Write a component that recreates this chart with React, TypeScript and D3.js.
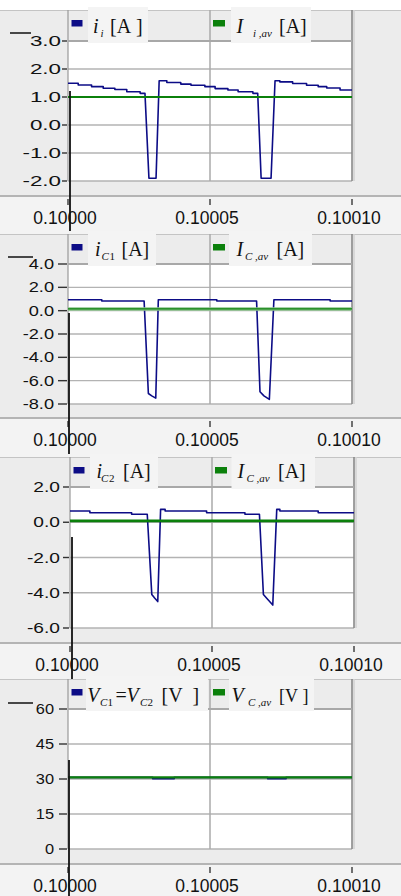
import React from 'react';
import * as d3 from 'd3';

type Pt = [number, number];

// time axis: microseconds after t = 0.1 s
const xTicks = [0, 50, 100];
const xTickLabels = ['0.10000', '0.10005', '0.10010'];

// panel 1 - input current
const iInput: Pt[] = [
  [0, 1.49], [3.6, 1.49], [3.6, 1.43], [8.3, 1.43], [8.3, 1.37], [12.4, 1.37], [12.4, 1.31],
  [16.5, 1.31], [16.5, 1.27], [20.7, 1.27], [20.7, 1.19], [25.4, 1.19], [25.4, 1.13], [27.1, 1.13],
  [28.5, -1.9], [31.0, -1.9], [32.1, 1.58], [34.8, 1.58], [34.8, 1.52], [39.7, 1.52], [39.7, 1.46],
  [43.3, 1.46], [43.3, 1.42], [48.2, 1.42], [48.2, 1.37], [51.8, 1.37], [51.8, 1.3], [56.3, 1.3],
  [56.3, 1.25], [59.9, 1.25], [59.9, 1.19], [65.1, 1.19], [65.1, 1.13], [66.8, 1.13], [68.0, -1.9],
  [71.5, -1.9], [72.9, 1.58], [74.6, 1.58], [74.6, 1.54], [79.1, 1.54], [79.1, 1.48], [84.0, 1.48],
  [84.0, 1.42], [88.1, 1.42], [88.1, 1.37], [91.1, 1.37], [91.1, 1.32], [95.8, 1.32], [95.8, 1.25],
  [100, 1.25],
];
const iInputAvg: Pt[] = [[0, 1.0], [100, 1.0]];
const iInputTicks = [3, 2, 1, 0, -1, -2];

// panel 2 - capacitor C1 current
const iC1: Pt[] = [
  [0, 0.94], [11.9, 0.94], [11.9, 0.83], [26.8, 0.83], [28.3, -7.1], [29.5, -7.3], [30.9, -7.5],
  [31.8, 0.94], [52.4, 0.94], [52.4, 0.83], [66.4, 0.83], [67.6, -6.95], [69.0, -7.3], [70.9, -7.6],
  [72.5, 0.94], [92.3, 0.94], [92.3, 0.83], [100, 0.83],
];
const iC1Avg: Pt[] = [[0, 0.15], [100, 0.15]];
const iC1Ticks = [4, 2, 0, -2, -4, -6, -8];

// panel 3 - capacitor C2 current
const iC2: Pt[] = [
  [0, 0.64], [7.0, 0.64], [7.0, 0.54], [21.7, 0.54], [21.7, 0.45], [27.2, 0.45], [28.8, -4.1],
  [29.8, -4.3], [30.9, -4.5], [31.9, 0.73], [33.5, 0.73], [33.5, 0.64], [48.1, 0.64], [48.1, 0.54],
  [61.6, 0.54], [61.6, 0.45], [66.7, 0.45], [68.1, -4.1], [69.5, -4.35], [71.4, -4.7], [72.8, 0.73],
  [73.9, 0.73], [73.9, 0.64], [87.4, 0.64], [87.4, 0.54], [100, 0.54],
];
const iC2Avg: Pt[] = [[0, 0.08], [100, 0.08]];
const iC2Ticks = [2, 0, -2, -4, -6];

// panel 4 - capacitor voltage
const vC: Pt[] = [
  [0, 30.7], [29.8, 30.7], [29.8, 30.15], [37.4, 30.15], [37.4, 30.7], [70.3, 30.7], [70.3, 30.15],
  [76.8, 30.15], [76.8, 30.7], [100, 30.7],
];
const vCAvg: Pt[] = [[0, 30.7], [100, 30.7]];
const vCTicks = [60, 45, 30, 15, 0];

type Piece = { t: string; x: number; it?: boolean; sub?: boolean; size?: number };
type Panel = {
  top: number; plotL: number; plotR: number; plotT: number; plotB: number; sep: number; next: number;
  yDomain: [number, number]; yTicks: number[]; fmt: string; labEnd: number; labScale: number; tickL: number;
  wave: Pt[]; avg: Pt[]; avgW: number; halo: boolean;
  legBase: number; box1: [number, number]; box2: [number, number];
  leg1: Piece[]; leg2: Piece[];
  hMark: [number, number, number] | null; vMark: [number, number, number];
};

const panels: Panel[] = [
  {
    top: 10, plotL: 68, plotR: 352, plotT: 41, plotB: 181, sep: 196, next: 234,
    yDomain: [-2, 3], yTicks: iInputTicks, fmt: '.1f', labEnd: 61, labScale: 1.6, tickL: 5,
    wave: iInput, avg: iInputAvg, avgW: 2, halo: false,
    legBase: 32.5, box1: [88, 148], box2: [231, 311],
    leg1: [{ t: 'i', x: 93, it: true }, { t: 'i', x: 100.5, it: true, sub: true }, { t: '[A\u00a0]', x: 110 }],
    leg2: [{ t: 'I', x: 236.5, it: true }, { t: 'i ,av', x: 253, it: true, sub: true }, { t: '[A]', x: 279 }],
    hMark: [10, 31, 33], vMark: [70, 91, 231],
  },
  {
    top: 234, plotL: 68, plotR: 352, plotT: 264, plotB: 404, sep: 418, next: 457,
    yDomain: [-8, 4], yTicks: iC1Ticks, fmt: '.1f', labEnd: 54, labScale: 1.3, tickL: 9,
    wave: iC1, avg: iC1Avg, avgW: 1.4, halo: true,
    legBase: 255.5, box1: [88, 156], box2: [229, 312],
    leg1: [{ t: 'i', x: 95, it: true }, { t: 'C', x: 101.5, it: true, sub: true }, { t: '1', x: 109.5, sub: true }, { t: '[A]', x: 121.5 }],
    leg2: [{ t: 'I', x: 236.5, it: true }, { t: 'C ,av', x: 245, it: true, sub: true }, { t: '[A]', x: 276.5 }],
    hMark: [8, 33, 257], vMark: [69, 313, 454],
  },
  {
    top: 457, plotL: 70, plotR: 354, plotT: 487, plotB: 628, sep: 643, next: 679,
    yDomain: [-6, 2], yTicks: iC2Ticks, fmt: '.1f', labEnd: 60, labScale: 1.37, tickL: 6,
    wave: iC2, avg: iC2Avg, avgW: 2.6, halo: false,
    legBase: 478, box1: [90, 158], box2: [231.5, 315],
    leg1: [{ t: 'i', x: 96.5, it: true }, { t: 'C', x: 101, it: true, sub: true }, { t: '2', x: 109, sub: true }, { t: '[A]', x: 123 }],
    leg2: [{ t: 'I', x: 237.5, it: true }, { t: 'C ,av', x: 246.5, it: true, sub: true }, { t: '[A]', x: 278 }],
    hMark: null, vMark: [72, 537, 680],
  },
  {
    top: 679, plotL: 68, plotR: 352, plotT: 709, plotB: 849, sep: 864, next: 900,
    yDomain: [0, 60], yTicks: vCTicks, fmt: 'd', labEnd: 54, labScale: 1.17, tickL: 8,
    wave: vC, avg: vCAvg, avgW: 2.4, halo: false,
    legBase: 701.5, box1: [86, 208], box2: [229, 314],
    leg1: [
      { t: 'V', x: 87.3, it: true }, { t: 'C', x: 100, it: true, sub: true }, { t: '1', x: 107.5, sub: true },
      { t: '=', x: 115.5 }, { t: 'V', x: 126.5, it: true }, { t: 'C', x: 140, it: true, sub: true },
      { t: '2', x: 147.5, sub: true }, { t: '[V\u00a0\u00a0]', x: 161.5 },
    ],
    leg2: [{ t: 'V', x: 231.5, it: true }, { t: 'C ,av', x: 248, it: true, sub: true }, { t: '[V\u00a0]', x: 279, size: 18 }],
    hMark: [8, 33, 703], vMark: [69, 760, 896],
  },
];

const BLUE = '#0c0c86';
const GREEN = '#0b800b';
const BG = '#ececec';
const SANS = 'Liberation Sans, Arial, sans-serif';
const SERIF = 'Liberation Serif, Times New Roman, serif';

function LegendText({ pieces, base }: { pieces: Piece[]; base: number }) {
  return (
    <>
      {pieces.map((p, i) => (
        <text
          key={i}
          x={p.x}
          y={p.sub ? base + 4 : base}
          fontFamily={SERIF}
          fontStyle={p.it ? 'italic' : 'normal'}
          fontSize={p.sub ? 11 : p.size ?? 20}
          fill="#111"
        >
          {p.t}
        </text>
      ))}
    </>
  );
}

function ChartPanel({ p, idx }: { p: Panel; idx: number }) {
  const x = d3.scaleLinear().domain([0, 100]).range([p.plotL, p.plotR]);
  const y = d3.scaleLinear().domain(p.yDomain).range([p.plotB, p.plotT]);
  const line = d3.line<Pt>().x((d) => x(d[0])).y((d) => y(d[1]));
  const fmt = d3.format(p.fmt);
  const mid = x(50);
  const clipId = `clip-${idx}`;

  return (
    <g>
      <rect x={0} y={p.top} width={401} height={p.sep - p.top} fill={BG} />
      <rect x={0} y={p.sep} width={401} height={p.next - p.sep} fill="#f3f3f3" />
      <line x1={0} x2={401} y1={p.top + 0.5} y2={p.top + 0.5} stroke="#c4c4c4" />
      <rect x={p.plotL} y={p.plotT} width={p.plotR - p.plotL} height={p.plotB - p.plotT} fill="#fff" />

      {/* grid */}
      {p.yTicks.map((t) => (
        <line key={t} x1={p.plotL} x2={p.plotR} y1={y(t)} y2={y(t)} stroke="#b3b3b3" strokeWidth={1.4} />
      ))}
      <line x1={mid} x2={mid} y1={p.top} y2={p.plotB} stroke="#aaa" strokeWidth={1.5} />
      <line x1={p.plotL} x2={p.plotL} y1={p.top} y2={p.plotB} stroke="#999" strokeWidth={1.2} />
      <line x1={p.plotR + 2} x2={p.plotR + 2} y1={p.top} y2={p.plotB} stroke="#d2d2d2" strokeWidth={1.5} />
      <line x1={p.plotR} x2={p.plotR} y1={p.top} y2={p.plotB} stroke="#8a8a8a" strokeWidth={1.6} />
      <line x1={p.plotL} x2={p.plotR} y1={p.plotT} y2={p.plotT} stroke="#a8a8a8" strokeWidth={2} />

      {/* legend */}
      <rect x={p.box1[0]} y={p.top - 3} width={p.box1[1] - p.box1[0]} height={p.plotT - p.top + 5} fill="#f4f4f4" />
      <rect x={p.box2[0]} y={p.top - 3} width={p.box2[1] - p.box2[0]} height={p.plotT - p.top + 5} fill="#f4f4f4" />
      <rect x={p.plotL + 3.5} y={p.top + 10} width={11} height={6.5} fill={BLUE} />
      <rect x={mid + 3} y={p.top + 10} width={12} height={6.5} fill={GREEN} />
      <LegendText pieces={p.leg1} base={p.legBase} />
      <LegendText pieces={p.leg2} base={p.legBase} />

      {/* series */}
      <clipPath id={clipId}>
        <rect x={p.plotL} y={p.plotT - 2} width={p.plotR - p.plotL} height={p.plotB - p.plotT + 4} />
      </clipPath>
      <g clipPath={`url(#${clipId})`}>
        <path d={line(p.wave) ?? ''} fill="none" stroke={BLUE} strokeWidth={1.6} strokeLinejoin="round" />
        {p.halo && <path d={line(p.avg) ?? ''} fill="none" stroke="#8cc48c" strokeWidth={3.5} />}
        <path d={line(p.avg) ?? ''} fill="none" stroke={GREEN} strokeWidth={p.avgW} />
      </g>

      {/* y axis */}
      {p.yTicks.map((t) => (
        <g key={t}>
          <line x1={p.plotL - 1 - p.tickL} x2={p.plotL - 1} y1={y(t)} y2={y(t)} stroke="#333" strokeWidth={1.4} />
          <text
            transform={`translate(${p.labEnd},${y(t)}) scale(${p.labScale},1)`}
            textAnchor="end"
            dy="0.36em"
            fontFamily={SANS}
            fontSize={14}
            fill="#111"
          >
            {fmt(t).replace('\u2212', '-')}
          </text>
        </g>
      ))}

      {/* x axis */}
      <line x1={0} x2={401} y1={p.sep} y2={p.sep} stroke="#b4b4b4" strokeWidth={2} />
      {xTicks.map((t, i) => (
        <g key={t}>
          <line x1={x(t)} x2={x(t)} y1={p.sep + 3} y2={p.sep + 9} stroke="#444" strokeWidth={1.5} />
          <text x={x(t) - 3} y={p.sep + 28} textAnchor="middle" fontFamily={SANS} fontSize={17.5} fill="#111">
            {xTickLabels[i]}
          </text>
        </g>
      ))}

      {/* cursor marks */}
      {p.hMark && (
        <line x1={p.hMark[0]} x2={p.hMark[1]} y1={p.hMark[2]} y2={p.hMark[2]} stroke="#111" strokeWidth={1.5} />
      )}
      <line x1={p.vMark[0]} x2={p.vMark[0]} y1={p.vMark[1]} y2={p.vMark[2]} stroke="#111" strokeWidth={1.8} />
    </g>
  );
}

export default function App() {
  return (
    <svg
      width={401}
      height={896}
      viewBox="0 0 401 896"
      style={{ position: 'absolute', left: 0, top: 0, display: 'block', background: '#fff' }}
    >
      {panels.map((p, i) => (
        <ChartPanel key={i} p={p} idx={i} />
      ))}
    </svg>
  );
}
